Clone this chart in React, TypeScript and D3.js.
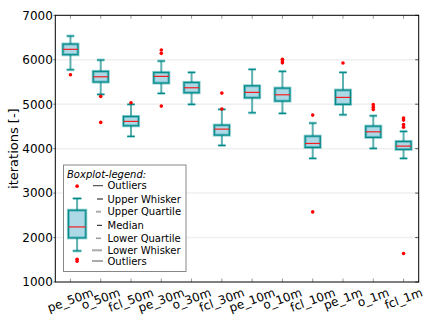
import React, { useEffect, useRef } from 'react';
import * as d3 from 'd3';

// box statistics per run
const categories = ['pe_50m', 'o_50m', 'fcl_50m', 'pe_30m', 'o_30m', 'fcl_30m', 'pe_10m', 'o_10m', 'fcl_10m', 'pe_1m', 'o_1m', 'fcl_1m'];
const whiskerHigh = [6534, 5994, 4996, 5971, 5716, 4883, 5784, 5739, 4575, 5716, 4739, 4388];
const upperQuartile = [6354, 5739, 4725, 5716, 5491, 4530, 5415, 5363, 4282, 5318, 4507, 4163];
const medians = [6234, 5617, 4613, 5626, 5370, 4439, 5266, 5212, 4117, 5153, 4379, 4057];
const lowerQuartile = [6113, 5498, 4514, 5475, 5257, 4304, 5144, 5070, 4027, 4996, 4253, 3982];
const whiskerLow = [5775, 5221, 4275, 5243, 4996, 4072, 4807, 4793, 3780, 4762, 4005, 3780];
const outliers = [
  [5662], [5176, 4590], [5032], [6219, 6144, 4957], [], [5250, 4893],
  [], [6010, 5970, 5930], [4755, 2577], [5926], [4990, 4934, 4878], [4687, 4642, 4541, 4484, 1640]
];
const yTicks = [1000, 2000, 3000, 4000, 5000, 6000, 7000];

// sample boxplot shown inside the legend
const legendLabels = ['Outliers', 'Upper Whisker', 'Upper Quartile', 'Median', 'Lower Quartile', 'Lower Whisker', 'Outliers'];
const legendSample = { pos: 1.22, high: 2879, q3: 2615, median: 2239, q1: 1992, low: 1699, outHigh: [3156], outLow: [1512, 1468] };

const App = () => {
  const ref = useRef<SVGSVGElement>(null);

  useEffect(() => {
    document.body.style.margin = '0';
    const w = 432;
    const h = 324;
    const left = 55.3, right = 418.7, top = 15.3, bottom = 282;
    const font = 'DejaVu Sans';
    const teal = '#008b8b';

    const svg = d3.select(ref.current);
    svg.selectAll('*').remove();

    const xScale = d3.scaleLinear().domain([0.5, categories.length + 0.5]).range([left, right]);
    const yScale = d3.scaleLinear().domain([1000, 7000]).range([bottom, top]);
    const boxW = xScale(0.5) - xScale(0);
    const capW = boxW / 2;

    // grid
    svg.selectAll('line.grid')
      .data(yTicks.slice(1, -1))
      .enter().append('line')
      .attr('x1', left).attr('x2', right)
      .attr('y1', d => yScale(d)).attr('y2', d => yScale(d))
      .attr('stroke', '#efefef').attr('stroke-width', 1.5);

    // ticks (inward on right/top/bottom)
    yTicks.forEach(t => {
      svg.append('line').attr('x1', right - 3.5).attr('x2', right).attr('y1', yScale(t)).attr('y2', yScale(t)).attr('stroke', '#555');
      svg.append('line').attr('x1', left - 2).attr('x2', left).attr('y1', yScale(t)).attr('y2', yScale(t)).attr('stroke', '#777');
      svg.append('text')
        .attr('x', left - 2.5).attr('y', yScale(t)).attr('dy', '0.36em')
        .attr('text-anchor', 'end').attr('font-family', font).attr('font-size', 12)
        .text(t);
    });
    categories.forEach((c, i) => {
      const x = xScale(i + 1);
      svg.append('line').attr('x1', x).attr('x2', x).attr('y1', top).attr('y2', top + 3.5).attr('stroke', '#999');
      svg.append('line').attr('x1', x).attr('x2', x).attr('y1', bottom).attr('y2', bottom - 3.5).attr('stroke', '#999');
    });

    const drawBox = (g, pos, hi, q3, med, q1, lo, outs, bw) => {
      const cx = xScale(pos);
      const cw = bw / 2;
      // whiskers
      [[q3, hi], [q1, lo]].forEach(([a, b]) => {
        g.append('line').attr('x1', cx).attr('x2', cx).attr('y1', yScale(a)).attr('y2', yScale(b))
          .attr('stroke', '#5fb0b0').attr('stroke-width', 2);
      });
      [hi, lo].forEach(v => {
        g.append('line').attr('x1', cx - cw / 2).attr('x2', cx + cw / 2).attr('y1', yScale(v)).attr('y2', yScale(v))
          .attr('stroke', 'rgba(0,139,139,0.35)').attr('stroke-width', 3);
        g.append('line').attr('x1', cx - cw / 2).attr('x2', cx + cw / 2).attr('y1', yScale(v)).attr('y2', yScale(v))
          .attr('stroke', teal).attr('stroke-width', 1.2);
      });
      // box
      g.append('rect').attr('x', cx - bw / 2).attr('y', yScale(q3)).attr('width', bw).attr('height', yScale(q1) - yScale(q3))
        .attr('fill', '#add8e6').attr('stroke', 'rgba(0,139,139,0.4)').attr('stroke-width', 3);
      g.append('rect').attr('x', cx - bw / 2).attr('y', yScale(q3)).attr('width', bw).attr('height', yScale(q1) - yScale(q3))
        .attr('fill', 'none').attr('stroke', teal).attr('stroke-width', 1.2);
      g.append('line').attr('x1', cx - bw / 2).attr('x2', cx + bw / 2).attr('y1', yScale(med)).attr('y2', yScale(med))
        .attr('stroke', '#f02020').attr('stroke-width', 1.2);
      g.selectAll(null).data(outs).enter().append('circle')
        .attr('cx', cx).attr('cy', d => yScale(d)).attr('r', 1.8).attr('fill', '#ff0000');
    };

    const boxes = svg.append('g');
    categories.forEach((c, i) => {
      drawBox(boxes, i + 1, whiskerHigh[i], upperQuartile[i], medians[i], lowerQuartile[i], whiskerLow[i], outliers[i], boxW);
    });

    // legend
    const lg = svg.append('g');
    lg.append('rect').attr('x', 63.5).attr('y', 165).attr('width', 122.5).attr('height', 106.5)
      .attr('fill', 'white').attr('stroke', '#888').attr('stroke-width', 1);
    lg.append('text').attr('x', 67).attr('y', 177.5).attr('font-family', font).attr('font-size', 10)
      .attr('font-style', 'italic').text('Boxplot-legend:');
    const s = legendSample;
    drawBox(lg, s.pos, s.high, s.q3, s.median, s.q1, s.low, [...s.outHigh, ...s.outLow], boxW * 1.15);
    const rowY = [185.7, 199, 211.7, 225.3, 238.3, 250.3, 261];
    const lineX = [[93, 103], [97, 103], [96, 101], [97, 102], [96, 101], [92, 102], [92, 103]];
    const lineStyle = [['#333', 1], ['#111', 1], ['#aaa', 2], ['#111', 1], ['#999', 1.5], ['#aaa', 2], ['#aaa', 2]];
    legendLabels.forEach((l, i) => {
      lg.append('line').attr('x1', lineX[i][0]).attr('x2', lineX[i][1]).attr('y1', rowY[i]).attr('y2', rowY[i])
        .attr('stroke', lineStyle[i][0]).attr('stroke-width', lineStyle[i][1]);
      lg.append('text').attr('x', 107.5).attr('y', rowY[i]).attr('dy', '0.36em')
        .attr('font-family', font).attr('font-size', 10).text(l);
    });

    // spines
    svg.append('rect').attr('x', left).attr('y', top).attr('width', right - left).attr('height', bottom - top)
      .attr('fill', 'none').attr('stroke', 'black').attr('stroke-width', 1);

    // rotated x labels, centred like matplotlib (rotated bbox top at pad)
    const theta = 20 * Math.PI / 180;
    categories.forEach((c, i) => {
      const t = svg.append('text').attr('font-family', font).attr('font-size', 12)
        .attr('text-anchor', 'middle').attr('dominant-baseline', 'central').text(c);
      const tw = (t.node() as SVGTextElement).getComputedTextLength();
      const th = 14;
      const bh = tw * Math.sin(theta) + th * Math.cos(theta);
      const cx = xScale(i + 1);
      const cy = bottom + 3.5 + bh / 2;
      t.attr('transform', `translate(${cx},${cy}) rotate(-20)`);
    });

    // y label
    svg.append('text').attr('transform', `translate(13,${(top + bottom) / 2}) rotate(-90)`)
      .attr('text-anchor', 'middle').attr('dominant-baseline', 'central')
      .attr('font-family', font).attr('font-size', 13).text('iterations [-]');

    svg.attr('width', w).attr('height', h);
  }, []);

  return <svg ref={ref} width={432} height={324} style={{ display: 'block', background: 'white' }}></svg>;
};

export default App;
